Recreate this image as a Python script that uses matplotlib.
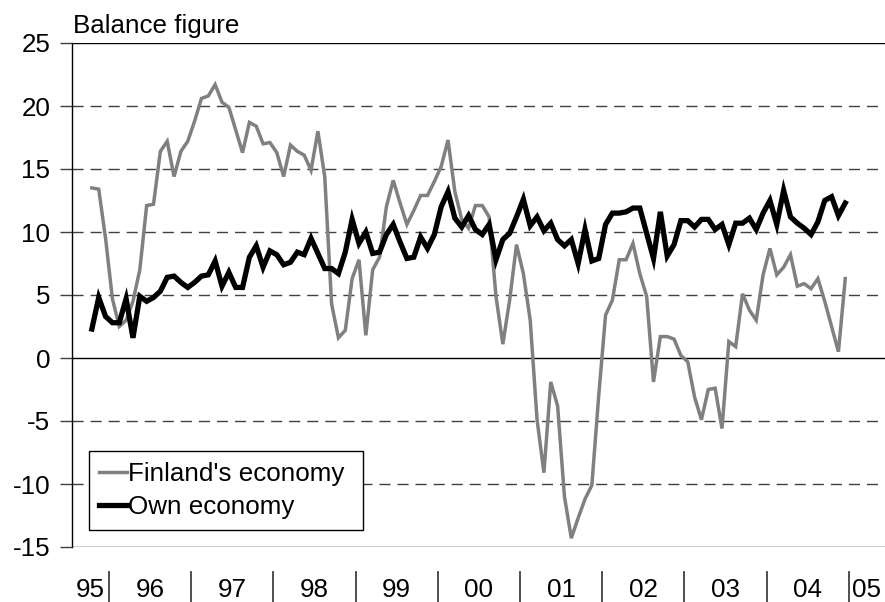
import matplotlib
matplotlib.use("Agg")
import matplotlib.pyplot as plt
import matplotlib.transforms as mtransforms
import numpy as np

plt.rcParams['font.family'] = ['Liberation Sans', 'DejaVu Sans']

# monthly balance figures, Oct 1995 .. Dec 2004
start_month = 10  # October 1995
finland = [13.5, 13.4, 9.5,
           4.7, 2.5, 3.0, 4.5, 7.0, 12.1, 12.2, 16.4, 17.2, 14.4, 16.4, 17.2,
           18.8, 20.6, 20.8, 21.7, 20.3, 19.9, 18.1, 16.3, 18.7, 18.4, 17.0, 17.1,
           16.3, 14.4, 16.9, 16.4, 16.1, 14.9, 18.0, 14.4, 4.3, 1.6, 2.2, 6.3,
           7.8, 1.8, 7.0, 8.0, 12.0, 14.1, 12.3, 10.6, 11.7, 12.9, 12.9, 14.0,
           15.2, 17.3, 13.2, 11.0, 10.3, 12.1, 12.1, 11.2, 4.9, 1.1, 4.6, 9.0,
           6.7, 3.0, -4.9, -9.1, -1.9, -3.8, -11.0, -14.3, -12.7, -11.2, -10.1, -3.0,
           3.4, 4.6, 7.8, 7.8, 9.1, 6.7, 4.9, -1.9, 1.7, 1.7, 1.5, 0.2,
           -0.3, -3.1, -4.9, -2.5, -2.4, -5.6, 1.3, 0.9, 5.1, 3.8, 3.0, 6.6,
           8.7, 6.6, 7.2, 8.2, 5.7, 5.9, 5.5, 6.3, 4.5, 2.5, 0.5, 6.3]
own = [2.3, 4.8, 3.3,
       2.8, 2.8, 4.7, 1.6, 4.9, 4.5, 4.8, 5.3, 6.4, 6.5, 6.0, 5.6,
       6.0, 6.5, 6.6, 7.7, 5.7, 6.8, 5.6, 5.6, 8.0, 8.9, 7.2, 8.5,
       8.2, 7.4, 7.6, 8.4, 8.2, 9.5, 8.3, 7.1, 7.1, 6.7, 8.4, 11.0,
       9.1, 10.0, 8.3, 8.4, 9.8, 10.6, 9.2, 7.9, 8.0, 9.6, 8.7, 9.8,
       12.0, 13.2, 11.1, 10.4, 11.3, 10.2, 9.8, 10.6, 7.8, 9.4, 9.9, 11.2,
       12.6, 10.5, 11.2, 10.1, 10.7, 9.4, 8.9, 9.4, 7.5, 10.2, 7.7, 7.9,
       10.6, 11.5, 11.5, 11.6, 11.9, 11.9, 9.9, 7.9, 11.6, 8.1, 9.0, 10.9,
       10.9, 10.4, 11.0, 11.0, 10.2, 10.6, 9.0, 10.7, 10.7, 11.1, 10.2, 11.5,
       12.5, 10.6, 13.3, 11.2, 10.7, 10.3, 9.8, 10.8, 12.5, 12.8, 11.3, 12.3]
year_labels = ['95', '96', '97', '98', '99', '00', '01', '02', '03', '04', '05']
y_ticks = [-15, -10, -5, 0, 5, 10, 15, 20, 25]

FS = 18.7
x = np.arange(len(finland))
fig = plt.figure(figsize=(8.85, 6.02), dpi=100)
ax = fig.add_axes([72 / 885, 1 - 547 / 602, 813 / 885, 504 / 602])

x0, x1 = -2.9, 115.8
ax.set_xlim(x0, x1)
ax.set_ylim(-15, 25)

# gridlines
for v in y_ticks:
    if v in (0, -15, 25):
        ax.axhline(v, color='black', lw=1.0, zorder=1)
    else:
        ax.axhline(v, color='#404040', lw=1.0, ls=(0, (8, 5)), zorder=1)

ax.plot(x, finland, color='#808080', lw=2.5, solid_joinstyle='miter',
        label="Finland's economy", zorder=3)
ax.plot(x, own, color='black', lw=3.8, solid_joinstyle='miter',
        label='Own economy', zorder=4)

for s in ['top', 'right', 'bottom']:
    ax.spines[s].set_visible(False)
ax.spines['left'].set_linewidth(1.0)

ax.set_yticks(y_ticks)
ax.set_yticklabels([str(v) for v in y_ticks])
ax.tick_params(axis='y', length=8.6, width=1.0, color='#404040', pad=7,
               labelsize=FS)
ax.set_xticks([])

# year separators and labels below the axis
trans = mtransforms.blended_transform_factory(ax.transData, ax.transAxes)
first_jan = 12 - start_month + 1 - 0.5
bounds = [first_jan + 12 * j for j in range(len(year_labels) - 1)]
for b in bounds:
    ax.plot([b, b], [-0.05, -0.11], color='#404040', lw=1.3,
            transform=trans, clip_on=False)
edges = [x0] + bounds + [x1]
for i, lab in enumerate(year_labels):
    ax.text((edges[i] + edges[i + 1]) / 2, -0.085, lab, transform=trans,
            ha='center', va='center', fontsize=FS)

fig.text(73 / 885, 1 - 33 / 602, 'Balance figure', fontsize=FS,
         ha='left', va='baseline')

leg = ax.legend(loc='lower left', bbox_to_anchor=(0.021, 0.034, 0.337, 0.15),
                mode='expand', fontsize=FS, frameon=True, fancybox=False,
                handlelength=1.05, handletextpad=0.05, borderpad=0.4,
                labelspacing=0.38, borderaxespad=0)
leg.get_frame().set_edgecolor('black')
leg.get_frame().set_linewidth(1.0)
leg.get_frame().set_alpha(1)

fig.savefig('out.png', dpi=100)
